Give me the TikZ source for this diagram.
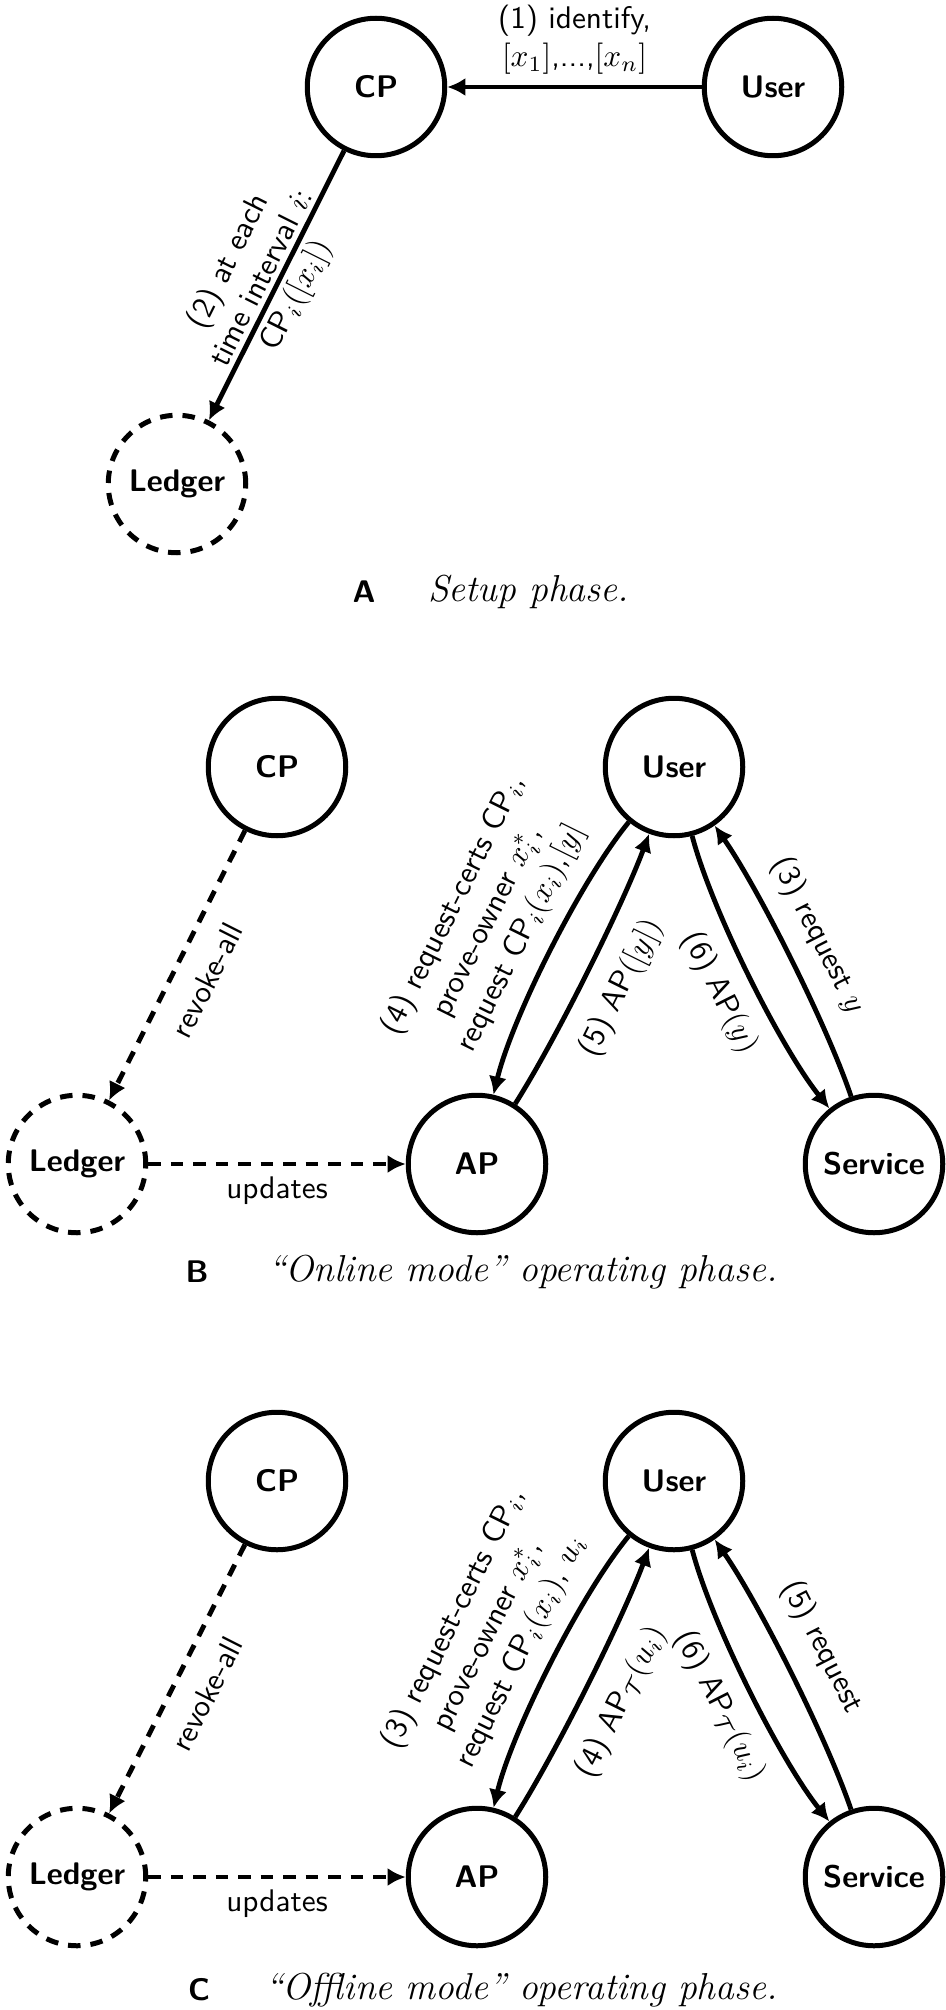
\documentclass[tikz,border=0pt]{standalone}
\usetikzlibrary{arrows.meta}
\begin{document}
\begin{tikzpicture}[x=0.32pt,y=0.32pt,
  ent/.style={circle,draw,line width=1.6pt,minimum size=44pt,inner sep=0pt,font=\sffamily\bfseries},
  dent/.style={ent,dash pattern=on 4pt off 3.2pt},
  arr/.style={line width=1.55pt,-{Latex[length=5.8pt,width=5.8pt]}},
  darr/.style={arr,dash pattern=on 4pt off 3.2pt},
  lbl/.style={font=\sffamily,align=center},
  captext/.style={font=\large\itshape,anchor=west},
  capletter/.style={font=\sffamily\bfseries},
  every to/.style={looseness=0.65}]
\path[use as bounding box,fill=white] (0,0) rectangle (945,-2010);

% ---------- A ----------
\node[ent]  (cpA)   at (376,-87)  {CP};
\node[ent]  (userA) at (773,-87)  {User};
\node[dent] (ledA)  at (177,-484) {Ledger};
\draw[arr] (userA) -- node[lbl,above] {(1) identify,\\ $[x_1]$,...,$[x_n]$} (cpA);
\draw[arr] (cpA) -- node[lbl,sloped,above,inner ysep=1.5pt] {(2) at each\\ time interval $i$:}
                    node[lbl,sloped,below,inner ysep=1.5pt] {CP$_i([x_i])$} (ledA);
\node[capletter] (capA) at (364,-592) {A};
\node[captext] (capAt) at (417,-592) {Setup phase.};

% ---------- B ----------
\node[ent]  (cpB)   at (277,-767)  {CP};
\node[ent]  (userB) at (674,-767)  {User};
\node[dent] (ledB)  at (77,-1164)  {Ledger};
\node[ent]  (apB)   at (477,-1164) {AP};
\node[ent]  (svB)   at (874,-1164) {Service};
\draw[darr] (cpB) -- node[lbl,sloped,below=3pt] {revoke-all} (ledB);
\draw[darr] (ledB) -- node[lbl,below=0pt] {updates} (apB);
\draw[arr] (userB) to[bend right=13] node[lbl,sloped,above=1pt] {(4) request-certs CP$_i$,\\ prove-owner $x_i^*$,\\ request CP$_i(x_i)$,$[y]$} (apB);
\draw[arr] (apB) to[bend right=6] node[lbl,sloped,below=3pt] {(5) AP$([y])$} (userB);
\draw[arr] (userB) to[bend right=12] node[lbl,sloped,below=1.8pt] {(6) AP$(y)$} (svB);
\draw[arr] (svB) to[bend right=8] node[lbl,sloped,above=2pt,pos=0.52] {(3) request $y$} (userB);
\node[capletter] (capB) at (197,-1272) {B};
\node[captext] (capBt) at (257,-1272) {“Online mode” operating phase.};

% ---------- C ----------
\node[ent]  (cpC)   at (277,-1481)  {CP};
\node[ent]  (userC) at (674,-1481)  {User};
\node[dent] (ledC)  at (77,-1877)   {Ledger};
\node[ent]  (apC)   at (477,-1877)  {AP};
\node[ent]  (svC)   at (874,-1877)  {Service};
\draw[darr] (cpC) -- node[lbl,sloped,below=3pt] {revoke-all} (ledC);
\draw[darr] (ledC) -- node[lbl,below=0pt] {updates} (apC);
\draw[arr] (userC) to[bend right=13] node[lbl,sloped,above=1pt] {(3) request-certs CP$_i$,\\ prove-owner $x_i^*$,\\ request CP$_i(x_i)$, $u_i$} (apC);
\draw[arr] (apC) to[bend right=6] node[lbl,sloped,below=3pt] {(4) AP$_{\mathcal{T}}(u_i)$} (userC);
\draw[arr] (userC) to[bend right=12] node[lbl,sloped,below=1.8pt] {(6) AP$_{\mathcal{T}}(u_i)$} (svC);
\draw[arr] (svC) to[bend right=8] node[lbl,sloped,above=3.5pt,pos=0.52] {(5) request} (userC);
\node[capletter] (capC) at (199,-1990) {C};
\node[captext] (capCt) at (254,-1990) {“Offline mode” operating phase.};
\end{tikzpicture}
\end{document}
